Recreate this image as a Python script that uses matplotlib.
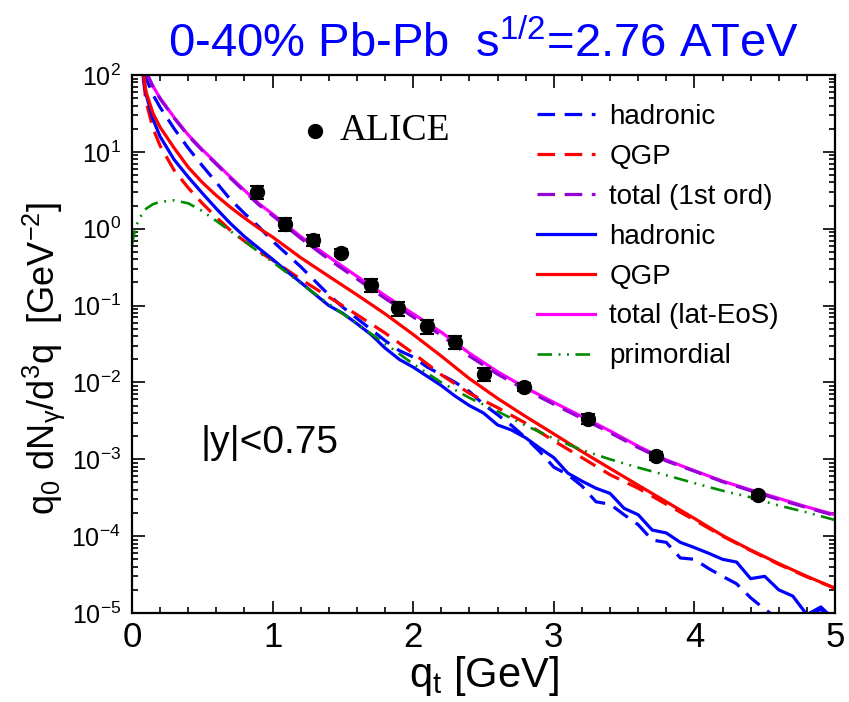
import numpy as np
import matplotlib
matplotlib.use("Agg")
import matplotlib.pyplot as plt
from matplotlib.ticker import MultipleLocator, LogLocator, NullFormatter, FixedLocator

plt.rcParams['font.family'] = ['Liberation Sans', 'DejaVu Sans']
plt.rcParams['mathtext.fontset'] = 'custom'
plt.rcParams['mathtext.rm'] = 'Liberation Sans'
plt.rcParams['mathtext.it'] = 'Liberation Sans:italic'
plt.rcParams['mathtext.default'] = 'regular'

# ALICE direct photons, 0-40% Pb-Pb
alice_qt = [0.89, 1.09, 1.29, 1.49, 1.70, 1.89, 2.10, 2.30, 2.50, 2.79, 3.24, 3.73, 4.45]
alice_y = [3.0, 1.16, 0.71, 0.49, 0.186, 0.093, 0.054, 0.0337, 0.0129, 0.0088, 0.00336, 0.00111, 0.00034]
alice_err = [0.6, 0.23, 0.11, 0.05, 0.037, 0.019, 0.011, 0.0067, 0.0026, 0.0011, 0.0005, 0.00013, 0.00004]

# model curves: first-order transition (dashed)
qt_had1 = [0.06, 0.09, 0.15, 0.2, 0.3, 0.4, 0.5, 0.6, 0.7, 0.8, 0.9, 1.0, 1.1, 1.2, 1.3, 1.4, 1.5,
           1.6, 1.7, 1.8, 1.9, 2.0, 2.1, 2.2, 2.3, 2.4, 2.5, 2.6, 2.7, 2.8, 2.9, 3.0, 3.1, 3.2,
           3.3, 3.4, 3.5, 3.6, 3.7, 3.8, 3.9, 4.0, 4.1, 4.2, 4.3, 4.4, 4.5, 4.6, 4.7, 4.8, 4.9, 5.0]
had1 = [251, 100, 55, 38, 20, 11.2, 6.6, 4.0, 2.4, 1.58, 1.07, 0.69, 0.47, 0.32, 0.21, 0.138, 0.095,
        0.068, 0.049, 0.035, 0.026, 0.0214, 0.0158, 0.0126, 0.0100, 0.0076, 0.0052, 0.0038, 0.00275,
        0.0019, 0.00126, 0.00079, 0.00063, 0.00045, 0.00028, 0.00026, 0.00019, 0.000141, 8.9e-5, 8.3e-5,
        5.2e-5, 5.0e-5, 3.8e-5, 3.0e-5, 2.4e-5, 1.58e-5, 1.12e-5, 8.3e-6, 7.1e-6, 8.9e-6, 1.12e-5, 7.9e-6]

qt_grid = [0.06, 0.08, 0.1, 0.15, 0.2, 0.3, 0.4, 0.5, 0.6, 0.7, 0.8, 0.9, 1.0, 1.2, 1.4, 1.6, 1.8,
           2.0, 2.2, 2.4, 2.6, 2.8, 3.0, 3.2, 3.4, 3.6, 3.8, 4.0, 4.2, 4.4, 4.6, 4.8, 5.0]
qgp1 = [200, 90, 44.7, 20, 12, 5.75, 3.4, 2.14, 1.41, 0.95, 0.69, 0.51, 0.39, 0.22, 0.129, 0.076,
        0.044, 0.024, 0.0126, 0.0072, 0.0047, 0.00295, 0.00174, 0.00105, 0.00063, 0.00042, 0.00026,
        0.000162, 0.0001, 6.5e-5, 4.3e-5, 2.95e-5, 2.1e-5]

qt_tot = [0.07, 0.11, 0.15, 0.2, 0.3, 0.4, 0.5, 0.6, 0.7, 0.8, 0.9, 1.0, 1.2, 1.4, 1.6, 1.8,
          2.0, 2.2, 2.4, 2.6, 2.8, 3.0, 3.2, 3.4, 3.6, 3.8, 4.0, 4.2, 4.4, 4.6, 4.8, 5.0]
tot1 = [250, 100, 70, 49, 27.5, 16.2, 10.4, 6.9, 4.55, 3.05, 2.06, 1.48, 0.75, 0.40, 0.222, 0.124,
        0.071, 0.041, 0.022, 0.0128, 0.0080, 0.0052, 0.0034, 0.00222, 0.00142, 0.00095, 0.0007,
        0.00051, 0.00039, 0.0003, 0.000235, 0.000185]

# model curves: lattice equation of state (solid)
qt_had2 = [0.06, 0.078, 0.1, 0.15, 0.2, 0.3, 0.4, 0.5, 0.6, 0.7, 0.8, 0.9, 1.0, 1.1, 1.2, 1.3, 1.4,
           1.5, 1.6, 1.7, 1.8, 1.9, 2.0, 2.1, 2.2, 2.3, 2.4, 2.5, 2.6, 2.7, 2.8, 2.9, 3.0, 3.1, 3.2,
           3.3, 3.4, 3.5, 3.6, 3.7, 3.8, 3.9, 4.0, 4.1, 4.2, 4.3, 4.4, 4.5, 4.6, 4.7, 4.8, 4.9, 5.0]
had2 = [251, 100, 56, 26.3, 15.8, 7.9, 4.7, 2.9, 1.82, 1.17, 0.79, 0.56, 0.40, 0.28, 0.20, 0.141,
        0.10, 0.079, 0.058, 0.042, 0.028, 0.020, 0.0158, 0.012, 0.0091, 0.0066, 0.0050, 0.0040,
        0.0028, 0.0024, 0.0019, 0.0014, 0.00105, 0.00066, 0.00052, 0.00042, 0.00036, 0.00023,
        0.00019, 0.00012, 0.00011, 8.3e-5, 7.1e-5, 6.0e-5, 5.0e-5, 4.6e-5, 2.8e-5, 3.0e-5, 2.0e-5,
        1.66e-5, 9.5e-6, 1.2e-5, 7.9e-6]

qgp2 = [200, 110, 60, 31.6, 20.9, 11.2, 6.3, 4.0, 2.7, 1.9, 1.38, 1.02, 0.78, 0.42, 0.24, 0.138,
        0.078, 0.042, 0.022, 0.0112, 0.0062, 0.0036, 0.00214, 0.00126, 0.00076, 0.00046, 0.00028,
        0.00017, 0.000102, 6.6e-5, 4.4e-5, 3.0e-5, 2.1e-5]

tot2 = [250, 100, 71, 50, 28, 16.6, 10.7, 7.1, 4.7, 3.16, 2.14, 1.55, 0.79, 0.43, 0.24, 0.135,
        0.078, 0.045, 0.024, 0.0138, 0.0085, 0.0055, 0.0036, 0.00234, 0.00148, 0.00098, 0.00071,
        0.00052, 0.0004, 0.00031, 0.00024, 0.00019]

qt_prim = [0.0, 0.02, 0.05, 0.1, 0.15, 0.2, 0.3, 0.4, 0.5, 0.6, 0.7, 0.8, 0.9, 1.0, 1.2, 1.4, 1.6,
           1.8, 2.0, 2.2, 2.4, 2.6, 2.8, 3.0, 3.2, 3.4, 3.6, 3.8, 4.0, 4.2, 4.4, 4.6, 4.8, 5.0]
prim = [0.62, 0.95, 1.35, 1.82, 2.09, 2.24, 2.34, 2.14, 1.70, 1.26, 0.93, 0.69, 0.50, 0.37, 0.195,
        0.105, 0.058, 0.032, 0.0174, 0.0100, 0.0063, 0.0042, 0.00275, 0.00186, 0.00132, 0.0010,
        0.00078, 0.00062, 0.00049, 0.00039, 0.00032, 0.00025, 0.000204, 0.000162]

BLUE = '#0000FF'
RED = '#FF0000'
MAGENTA = '#FF00FF'
VIOLET = '#9400D3'
GREEN = '#008B00'

fig = plt.figure(figsize=(8.49, 7.02), dpi=100)
ax = fig.add_axes([132 / 849, 1 - 613 / 702, 703 / 849, 538 / 702])

lw = 2.3
dash = (5.5, 3.0)
h_had1, = ax.plot(qt_had1, had1, color=BLUE, lw=lw, dashes=dash, label='hadronic')
h_qgp1, = ax.plot(qt_grid, qgp1, color=RED, lw=lw, dashes=dash, label='QGP')
h_had2, = ax.plot(qt_had2, had2, color=BLUE, lw=lw, label='hadronic')
h_qgp2, = ax.plot(qt_grid, qgp2, color=RED, lw=lw, label='QGP')
h_tot2, = ax.plot(qt_tot, tot2, color=MAGENTA, lw=lw, label='total (lat-EoS)')
h_tot1, = ax.plot(qt_tot, tot1, color=VIOLET, lw=lw, dashes=dash, label='total (1st ord)')
h_prim, = ax.plot(qt_prim, prim, color=GREEN, lw=1.9,
                  dashes=(5.5, 2.5, 0.7, 2.5, 0.7, 2.5), label='primordial')

ax.errorbar(alice_qt, alice_y, yerr=alice_err, fmt='o', color='black', ms=10,
            elinewidth=1.5, capsize=5, capthick=1.5, zorder=5)

ax.set_yscale('log')
ax.set_xlim(0, 5)
ax.set_ylim(1e-5, 1e2)

ax.xaxis.set_major_locator(MultipleLocator(1))
ax.xaxis.set_minor_locator(MultipleLocator(0.2))
ax.yaxis.set_major_locator(FixedLocator([10.0 ** k for k in range(-5, 3)]))
ax.yaxis.set_minor_locator(LogLocator(base=10, subs=np.arange(2, 10), numticks=20))
ax.yaxis.set_minor_formatter(NullFormatter())

for s in ax.spines.values():
    s.set_linewidth(1.6)
ax.tick_params(which='both', direction='in', top=True, right=True, width=1.2)
ax.tick_params(which='major', length=9)
ax.tick_params(which='minor', length=4.5)
ax.tick_params(axis='x', which='major', labelsize=25, pad=6)
ax.tick_params(axis='y', which='major', labelsize=18, pad=8)

ax.set_xlabel(r'q$_t$ [GeV]', fontsize=30, labelpad=0)
fig.text(0.052, 0.49, r'q$_0$ dN$_\gamma$/d$^3$q  [GeV$^{-2}$]', fontsize=26,
         rotation=90, ha='center', va='center')

fig.text(484 / 849, 1 - 44 / 702, r'0-40% Pb-Pb  s$^{1/2}$=2.76 ATeV', fontsize=34,
         color=BLUE, ha='center', va='center')

# ALICE key
ax.plot([(315 - 132) / 703], [1 - (131 - 75) / 538], 'o', color='black', ms=10,
        transform=ax.transAxes, clip_on=False)
ax.text((340 - 132) / 703, 1 - (131 - 75) / 538, 'ALICE', fontsize=27,
        family=['Liberation Serif', 'DejaVu Serif'], va='center', ha='left',
        transform=ax.transAxes)

ax.text((200 - 132) / 703, 1 - (443 - 75) / 538, '|y|<0.75', fontsize=28,
        va='center', ha='left', transform=ax.transAxes)

handles = [h_had1, h_qgp1, h_tot1, h_had2, h_qgp2, h_tot2, h_prim]
labels = ['hadronic', 'QGP', 'total (1st ord)', 'hadronic', 'QGP', 'total (lat-EoS)', 'primordial']
fig.legend(handles, labels, loc='upper left', bbox_to_anchor=(537 / 849, 1 - 104 / 702),
           frameon=False, fontsize=20, handlelength=2.1, handletextpad=0.5,
           labelspacing=0.5, borderpad=0, borderaxespad=0)

fig.savefig('out.png', dpi=100)
